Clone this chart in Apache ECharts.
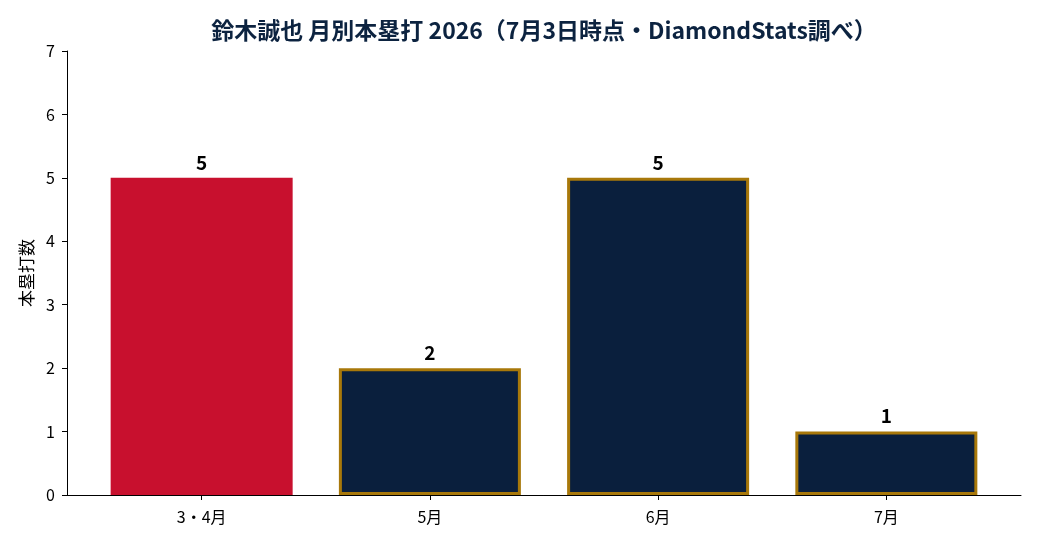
<!DOCTYPE html>
<html>
<head>
<meta charset="utf-8">
<script src="https://cdn.jsdelivr.net/npm/echarts@6/dist/echarts.min.js"></script>
<style>
  html, body { margin: 0; padding: 0; background: #fff; }
  #chart { width: 1040px; height: 546px; }
</style>
</head>
<body>
<div id="chart"></div>
<script>
const months = ['3・4月', '5月', '6月', '7月'];
const homeRuns = [5, 2, 5, 1];
const yTicks = [0, 1, 2, 3, 4, 5, 6, 7];

const font = '"Noto Sans CJK JP", "Noto Sans", sans-serif';
const red = '#C8102E';
const navy = '#0A1F3D';
const gold = '#A8780A';

const chart = echarts.init(document.getElementById('chart'));

const barData = homeRuns.map((v, i) => ({
  value: [i, v],
  itemStyle: i === 0
    ? { color: red, borderWidth: 0 }
    : { color: navy, borderColor: gold, borderWidth: 3 }
}));

const option = {
  animation: false,
  title: {
    text: '鈴木誠也 月別本塁打 2026（7月3日時点・DiamondStats調べ）',
    left: 539,
    textAlign: 'center',
    top: 14,
    textStyle: { fontFamily: font, fontSize: 23, fontWeight: 'bold', color: '#0C2340' }
  },
  grid: { left: 67, right: 19, top: 51, bottom: 51 },
  xAxis: {
    type: 'value',
    min: -0.59,
    max: 3.59,
    splitLine: { show: false },
    axisLine: { show: true, onZero: false, lineStyle: { color: '#000', width: 1 } },
    axisTick: { show: true, customValues: [0, 1, 2, 3], length: 5, lineStyle: { color: '#000' } },
    axisLabel: {
      customValues: [0, 1, 2, 3],
      formatter: v => months[Math.round(v)],
      fontFamily: font, fontSize: 16, color: '#000', margin: 14
    }
  },
  yAxis: {
    type: 'value',
    min: yTicks[0],
    max: yTicks[yTicks.length - 1],
    interval: 1,
    name: '本塁打数',
    nameLocation: 'middle',
    nameGap: 27,
    nameTextStyle: { fontFamily: font, fontSize: 17, color: '#000' },
    splitLine: { show: false },
    axisLine: { show: true, onZero: false, lineStyle: { color: '#000', width: 1 } },
    axisTick: { show: true, length: 5, lineStyle: { color: '#000' } },
    axisLabel: { fontFamily: font, fontSize: 16, color: '#000', margin: 12 }
  },
  series: [{
    type: 'bar',
    data: barData,
    barWidth: 182,
    label: {
      show: true,
      position: 'top',
      distance: 6,
      formatter: p => p.value[1],
      fontFamily: font, fontSize: 19, fontWeight: 'bold', color: '#000'
    }
  }]
};

chart.setOption(option);
</script>
</body>
</html>
